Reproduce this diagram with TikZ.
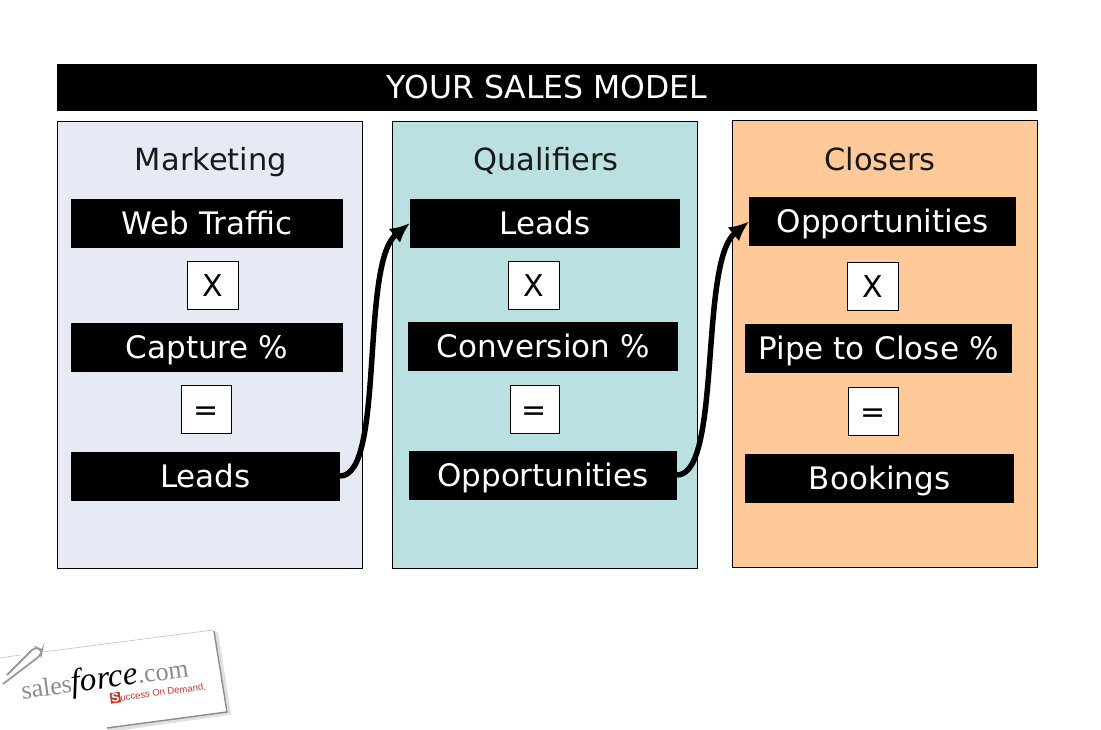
\documentclass[tikz,border=0pt]{standalone}
\usepackage{fontspec}
\usepackage{xcolor}
\setmainfont{DejaVu Sans}
\newfontfamily\logofont{Liberation Serif}
\newfontfamily\tagfont{Liberation Sans}
\usetikzlibrary{arrows.meta,positioning}
\definecolor{marketingfill}{HTML}{E6EAF4}
\definecolor{qualifierfill}{HTML}{BBE0E2}
\definecolor{closerfill}{HTML}{FFC999}
\definecolor{logored}{HTML}{C0392B}
\begin{document}
\begin{tikzpicture}[
  x=1pt, y=-1pt,
  panel/.style={draw, line width=0.8pt, inner sep=0pt, outer sep=0pt, minimum width=305.5pt, minimum height=447pt},
  heading/.style={inner sep=0pt, font=\fontsize{30.5}{30}\selectfont, text=black!90, text height=22pt, text depth=6pt},
  bar/.style={fill=black, text=white, inner sep=0pt, outer sep=0pt, font=\fontsize{31}{31}\selectfont, text height=22pt, text depth=0pt, minimum height=49pt},
  op/.style={draw, fill=white, line width=0.8pt, inner sep=0pt, outer sep=0pt, font=\fontsize{30}{30}\selectfont, text height=22pt, text depth=0pt, minimum width=51pt, minimum height=48pt},
  arrow/.style={-{Latex[length=20pt,width=18pt]}, line width=5.5pt, black}
]
\useasboundingbox (0,0) rectangle (1101,729);
\fill[white] (0,0) rectangle (1101,729);

\node[bar, minimum width=980pt, minimum height=47pt, font=\fontsize{31.5}{31}\selectfont] (title) at (547,87.5) {YOUR SALES MODEL};

\node[panel, fill=marketingfill] (marketing) at (210,344.5) {};
\node[panel, fill=qualifierfill] (qualifiers) at (545,344.5) {};
\node[panel, fill=closerfill, minimum width=305pt] (closers) at (884.5,343.5) {};

\node[heading] (markethead) at (211,162) {Marketing};
\node[heading] (qualhead) at (546,162) {Qualifiers};
\node[heading] (closehead) at (880,162) {Closers};

% first column
\node[bar, minimum width=272pt] (traffic) at (207,223) {Web Traffic};
\node[op, below=14pt of traffic, xshift=5.5pt] (times1) {X};
\node[bar, minimum width=272pt, below=13pt of times1, xshift=-5.5pt] (capture) {Capture \%};
\node[op, minimum width=50pt, below=14pt of capture, xshift=-1pt] (equals1) {=};
\node[bar, minimum width=269pt, below=18pt of equals1, xshift=-0.5pt] (leads1) {Leads};

% second column
\node[bar, minimum width=270pt] (leads2) at (545,223) {Leads};
\node[op, below=14pt of leads2, xshift=-11.5pt] (times2) {X};
\node[bar, minimum width=270pt, below=12pt of times2, xshift=9.5pt] (conversion) {Conversion \%};
\node[op, minimum width=49pt, below=15pt of conversion, xshift=-8.5pt] (equals2) {=};
\node[bar, minimum width=268pt, below=17pt of equals2, xshift=8.5pt] (opps2) {Opportunities};

% third column
\node[bar, minimum width=267pt] (opps3) at (882.5,221.5) {Opportunities};
\node[op, below=16pt of opps3, xshift=-10pt] (times3) {X};
\node[bar, minimum width=267pt, below=14pt of times3, xshift=6pt] (pipe) {Pipe to Close \%};
\node[op, minimum width=50pt, below=14pt of pipe, xshift=-5.5pt] (equals3) {=};
\node[bar, minimum width=269pt, below=19pt of equals3, xshift=6.5pt] (bookings) {Bookings};

\draw[arrow] (leads1.east) .. controls +(45,0) and +(-50,41) .. (leads2.west);
\draw[arrow] (opps2.east) .. controls +(45,0) and +(-50,41) .. (opps3.west);

% logo
\draw[black!12, line width=4pt] (216,632) -- (229,713) -- (108,730);
\draw[black!45, line width=1.4pt] (214,631) -- (227,712) -- (107,728);
\draw[black!25, line width=0.6pt] (0,658) -- (20,655);
\draw[black!25, line width=0.6pt] (43,652) -- (213,630);
\draw[black!40, line width=1.8pt, rounded corners=4pt] (7,675) -- (35,647) -- (42,650) -- (41,655) -- (3,684);
\node[rotate=7.7, inner sep=0pt, font=\logofont\fontsize{26}{30}\selectfont] (logoname) at (105,680)
  {\textcolor{black!45}{sales}{\fontsize{33}{30}\selectfont\textit{force}}\textcolor{black!45}{.com}};
\node[rotate=7.7, inner sep=0pt, font=\tagfont\fontsize{9.5}{10}\selectfont, text=logored] (logotag) at (158,692)
  {\textcolor{white}{\setlength{\fboxsep}{1pt}\colorbox{logored}{\fontsize{12}{12}\selectfont\textbf{S}}}uccess On Demand.};
\end{tikzpicture}
\end{document}
